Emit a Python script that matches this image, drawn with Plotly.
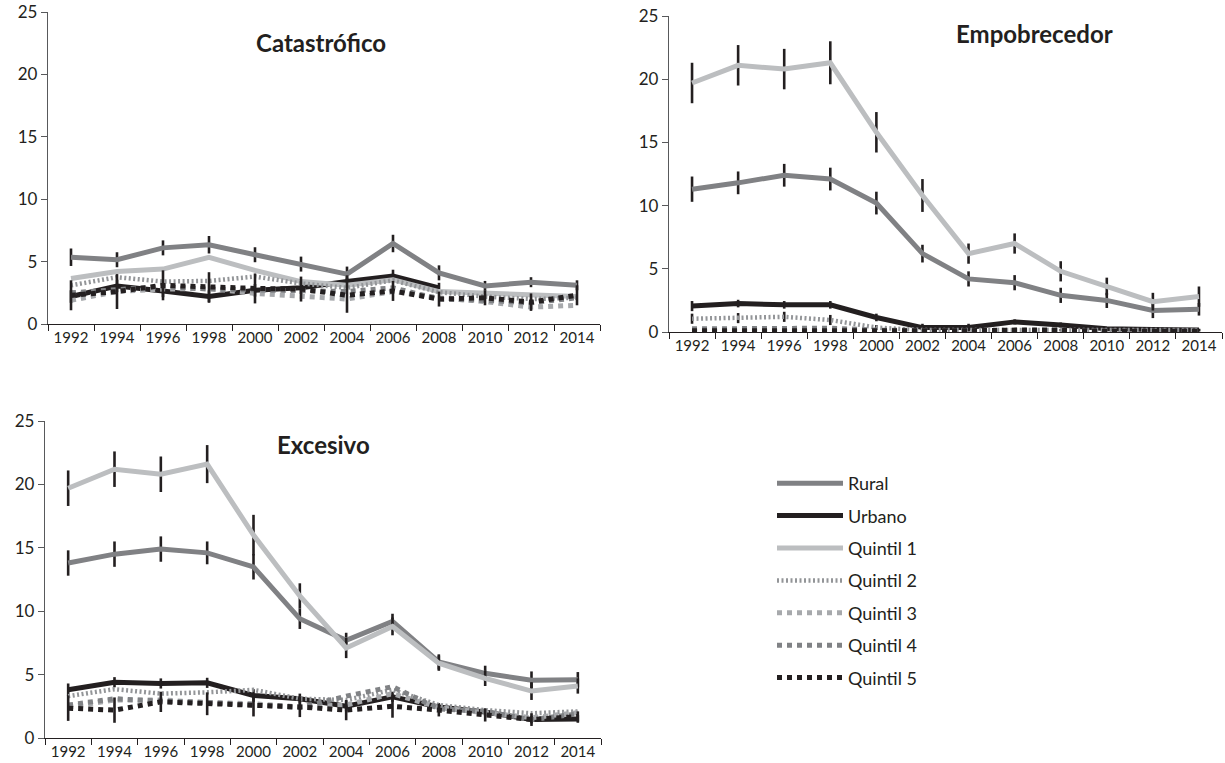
import plotly.graph_objects as go

years = ["1992", "1994", "1996", "1998", "2000", "2002", "2004", "2006", "2008", "2010", "2012", "2014"]
series_names = ["Rural", "Urbano", "Quintil 1", "Quintil 2", "Quintil 3", "Quintil 4", "Quintil 5"]
panel_titles = ["Catastrófico", "Empobrecedor", "Excesivo"]
y_ticks = [0, 5, 10, 15, 20, 25]

# ---- Catastrófico ----
cat_rural = [5.35, 5.15, 6.1, 6.35, 5.55, 4.8, 4.0, 6.45, 4.1, 3.05, 3.35, 3.1]
cat_urbano = [2.2, 3.05, 2.65, 2.2, 2.7, 2.9, 3.4, 3.85, 2.9, None, None, None]
cat_q1 = [3.65, 4.2, 4.4, 5.35, 4.3, 3.4, 3.1, 3.55, 2.6, 2.45, 2.3, 2.2]
cat_q2 = [3.1, 3.75, 3.4, 3.45, 3.8, 3.25, 2.9, 3.5, 2.55, 2.2, 2.0, 2.1]
cat_q3 = [1.9, 2.6, 2.8, 2.85, 2.45, 2.2, 2.0, 2.6, 2.1, 1.8, 1.35, 1.5]
cat_q4 = [2.5, 2.7, 3.0, 2.8, 2.7, 2.7, 2.6, 2.9, 2.0, 1.9, 1.7, 2.1]
cat_q5 = [2.3, 2.6, 3.1, 2.95, 2.85, 2.8, 2.3, 2.65, 2.0, 2.1, 1.75, 2.3]
cat_err_rural = [0.7, 0.6, 0.6, 0.7, 0.6, 0.6, 0.6, 0.7, 0.6, 0.4, 0.4, 0.4]
cat_err_urbano = [0.5, 0.5, 0.5, 0.5, 0.5, 0.5, 0.5, 0.5, 0.4, None, None, None]
cat_err_q5 = [1.2, 1.4, 1.2, 1.2, 1.2, 1.0, 1.4, 0.8, 0.6, 0.6, 0.7, 0.8]

# ---- Empobrecedor ----
emp_rural = [11.3, 11.8, 12.4, 12.1, 10.2, 6.2, 4.2, 3.9, 2.9, 2.5, 1.7, 1.8]
emp_urbano = [2.05, 2.25, 2.15, 2.15, 1.15, 0.35, 0.35, 0.8, 0.55, 0.25, 0.2, 0.15]
emp_q1 = [19.7, 21.1, 20.8, 21.3, 15.8, 10.8, 6.2, 7.0, 4.8, 3.6, 2.4, 2.8]
emp_q2 = [1.05, 1.1, 1.2, 0.95, 0.35, 0.15, 0.15, 0.15, 0.15, 0.15, 0.15, 0.15]
emp_q3 = [0.15, 0.15, 0.2, 0.2, 0.1, 0.05, 0.05, 0.05, 0.05, 0.05, 0.05, 0.05]
emp_q4 = [0.25, 0.25, 0.3, 0.3, 0.15, 0.1, 0.1, 0.1, 0.1, 0.1, 0.05, 0.05]
emp_q5 = [0.1, 0.1, 0.1, 0.1, 0.05, 0.05, 0.1, 0.15, 0.15, 0.05, 0.05, 0.05]
emp_err_rural = [1.0, 0.9, 0.9, 0.9, 0.9, 0.7, 0.6, 0.6, 0.6, 0.6, 0.6, 0.5]
emp_err_urbano = [0.4, 0.3, 0.3, 0.3, 0.3, 0.3, 0.3, 0.2, 0.2, 0.1, 0.1, 0.1]
emp_err_q1 = [1.6, 1.6, 1.6, 1.7, 1.6, 1.3, 0.8, 0.8, 0.8, 0.7, 0.7, 0.8]
emp_err_q2 = [0.4, 0.4, 0.4, 0.4, 0.2, 0.1, 0.1, 0.1, 0.1, 0.1, 0.1, 0.1]

# ---- Excesivo ----
exc_rural = [13.8, 14.5, 14.9, 14.6, 13.5, 9.4, 7.7, 9.2, 6.0, 5.1, 4.55, 4.6]
exc_urbano = [3.8, 4.4, 4.3, 4.35, 3.35, 3.1, 2.5, 3.25, 2.45, 2.05, 1.45, 1.5]
exc_q1 = [19.7, 21.2, 20.8, 21.6, 16.0, 11.2, 7.1, 8.8, 5.9, 4.7, 3.7, 4.1]
exc_q2 = [3.3, 3.85, 3.5, 3.6, 3.8, 3.1, 3.0, 3.8, 2.6, 2.2, 1.95, 2.1]
exc_q3 = [2.45, 3.0, 3.0, 2.8, 2.7, 2.45, 2.6, 3.5, 2.4, 2.0, 1.6, 2.0]
exc_q4 = [2.6, 3.1, 2.9, 2.8, 2.6, 2.4, 3.3, 4.05, 2.3, 2.1, 1.45, 1.9]
exc_q5 = [2.35, 2.2, 2.85, 2.7, 2.6, 2.45, 2.2, 2.5, 2.2, 1.8, 1.45, 1.7]
exc_err_rural = [1.0, 1.0, 1.0, 0.9, 1.0, 0.8, 0.6, 0.6, 0.6, 0.6, 0.7, 0.6]
exc_err_urbano = [0.5, 0.4, 0.4, 0.4, 0.5, 0.4, 0.4, 0.4, 0.3, 0.3, 0.3, 0.3]
exc_err_q1 = [1.4, 1.4, 1.4, 1.5, 1.6, 1.0, 0.8, 0.7, 0.6, 0.6, 0.7, 0.6]
exc_err_q5 = [1.0, 1.0, 0.8, 0.9, 0.9, 0.8, 0.8, 0.9, 0.5, 0.5, 0.5, 0.4]

panels = [
    {"x": "x", "y": "y",
     "values": [cat_rural, cat_urbano, cat_q1, cat_q2, cat_q3, cat_q4, cat_q5],
     "errors": [cat_err_rural, cat_err_urbano, None, None, None, None, cat_err_q5]},
    {"x": "x2", "y": "y2",
     "values": [emp_rural, emp_urbano, emp_q1, emp_q2, emp_q3, emp_q4, emp_q5],
     "errors": [emp_err_rural, emp_err_urbano, emp_err_q1, emp_err_q2, None, None, None]},
    {"x": "x3", "y": "y3",
     "values": [exc_rural, exc_urbano, exc_q1, exc_q2, exc_q3, exc_q4, exc_q5],
     "errors": [exc_err_rural, exc_err_urbano, exc_err_q1, None, None, None, exc_err_q5]},
]

styles = {
    "Rural": dict(color="#808184", width=5, dash="solid"),
    "Urbano": dict(color="#231f20", width=5, dash="solid"),
    "Quintil 1": dict(color="#bcbec0", width=5, dash="solid"),
    "Quintil 2": dict(color="#939598", width=4.5, dash="2px,2.5px"),
    "Quintil 3": dict(color="#a7a9ac", width=5, dash="5px,5px"),
    "Quintil 4": dict(color="#808285", width=5, dash="5px,5px"),
    "Quintil 5": dict(color="#231f20", width=5, dash="5px,5px"),
}

FONT = "Lato, 'Open Sans', sans-serif"
TXT = "#231f20"

fig = go.Figure()
for pi, p in enumerate(panels):
    for name, vals, err in zip(series_names, p["values"], p["errors"]):
        st = styles[name]
        if err is not None:
            ey = dict(type="data", array=err, visible=True, width=0,
                      thickness=2.6, color="#231f20")
        else:
            ey = dict(visible=False)
        fig.add_trace(go.Scatter(
            x=years, y=vals, name=name, mode="lines",
            line=dict(color=st["color"], width=st["width"], dash=st["dash"]),
            error_y=ey, xaxis=p["x"], yaxis=p["y"],
            legendgroup=name, showlegend=(pi == 0),
            connectgaps=False,
        ))

axis_common_x = dict(type="category", categoryorder="array", categoryarray=years,
                     tickson="boundaries", ticks="outside", ticklen=6, tickwidth=1.2,
                     tickcolor="#231f20", showline=True, linecolor="#231f20", linewidth=1.3,
                     showgrid=False, zeroline=False, automargin=False, tickangle=0,
                     tickfont=dict(family=FONT, size=15, color=TXT), range=[-0.5, 11.5])
axis_common_y = dict(range=[0, 25], tickvals=y_ticks, ticks="outside", ticklen=6,
                     tickwidth=1.2, tickcolor="#58595b", showline=True, linecolor="#58595b",
                     linewidth=1.3, showgrid=False, zeroline=False, automargin=False,
                     tickfont=dict(family=FONT, size=17, color=TXT))

W, H = 1225, 763
def dom_x(a, b):
    return [a / W, b / W]
def dom_y(top, bottom):
    return [1 - bottom / H, 1 - top / H]

fig.update_layout(
    width=W, height=H,
    margin=dict(l=0, r=0, t=0, b=0),
    paper_bgcolor="white", plot_bgcolor="white",
    font=dict(family=FONT, size=16, color=TXT),
    xaxis=dict(axis_common_x, domain=dom_x(48, 600), anchor="y"),
    yaxis=dict(axis_common_y, domain=dom_y(12, 324), anchor="x"),
    xaxis2=dict(axis_common_x, domain=dom_x(669, 1222), anchor="y2"),
    yaxis2=dict(axis_common_y, domain=dom_y(16, 332), anchor="x2"),
    xaxis3=dict(axis_common_x, domain=dom_x(45, 601), anchor="y3"),
    yaxis3=dict(axis_common_y, domain=dom_y(421, 738), anchor="x3"),
    legend=dict(x=772 / W, y=1 - 465 / H, xanchor="left", yanchor="top",
                font=dict(family=FONT, size=18, color=TXT),
                itemwidth=66, tracegroupgap=6, bgcolor="rgba(0,0,0,0)"),
    showlegend=True,
)

title_pos = [(321, 42), (1034, 33), (323, 445)]
for t, (cx, cy) in zip(panel_titles, title_pos):
    fig.add_annotation(text="<b>" + t + "</b>", x=cx / W, y=1 - cy / H,
                       xref="paper", yref="paper", showarrow=False,
                       xanchor="center", yanchor="middle",
                       font=dict(family=FONT, size=24, color=TXT))

fig.write_html("out.html",
               config={"displayModeBar": False},
               post_script="document.body.style.margin='0';document.body.style.overflow='hidden';")
